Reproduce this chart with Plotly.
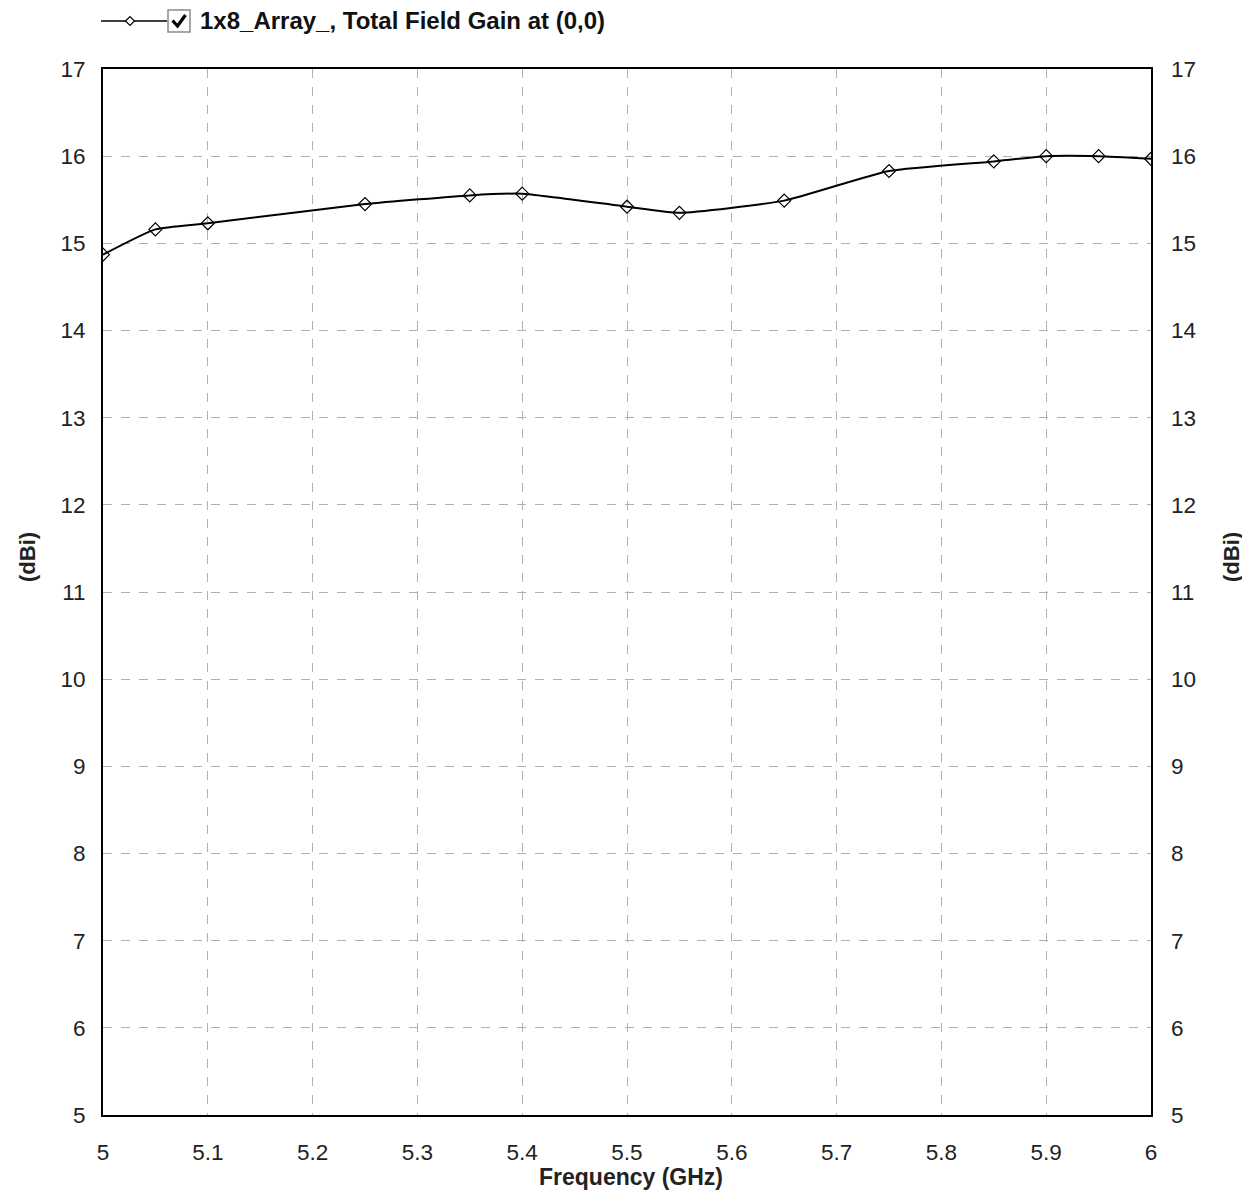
import plotly.graph_objects as go

freq_ghz = [5.0, 5.05, 5.1, 5.25, 5.35, 5.4, 5.5, 5.55, 5.65, 5.75, 5.85, 5.9, 5.95, 6.0]
gain_dbi = [14.87, 15.16, 15.23, 15.45, 15.55, 15.57, 15.42, 15.35, 15.49, 15.83, 15.94, 16.0, 16.0, 15.97]
x_ticks = [5.0, 5.1, 5.2, 5.3, 5.4, 5.5, 5.6, 5.7, 5.8, 5.9, 6.0]
x_tick_labels = ["5", "5.1", "5.2", "5.3", "5.4", "5.5", "5.6", "5.7", "5.8", "5.9", "6"]
y_ticks = list(range(5, 18))
series_name = "1x8_Array_, Total Field Gain at (0,0)"

FONT = "Liberation Sans Narrow, Arial Narrow, Liberation Sans, Arial, sans-serif"
BOLD = "Liberation Sans, Arial, sans-serif"

OFF = 7  # page offset of the figure inside the browser window
# plot area in screen pixels
L, R, T, B = 102, 1150, 68, 1114
PW, PH = R - L, B - T


def px(xs):
    return (xs - L) / PW


def py(ys):
    return (B - ys) / PH


fig = go.Figure()
fig.add_trace(go.Scatter(
    x=freq_ghz, y=gain_dbi, mode="lines+markers",
    line=dict(color="black", width=2, shape="spline", smoothing=0.5),
    marker=dict(symbol="diamond-open", size=10, color="black", line=dict(width=1.2)),
    showlegend=False,
))
fig.add_trace(go.Scatter(x=[freq_ghz[0]], y=[gain_dbi[0]], yaxis="y2",
                         mode="markers", marker=dict(opacity=0), showlegend=False,
                         hoverinfo="skip"))

TICKFONT = dict(family=FONT, size=22.5, color="#222")
axis_common = dict(
    showgrid=True, gridcolor="#b0b0b0", griddash="dash", gridwidth=1,
    showline=True, linecolor="black", linewidth=2, mirror=True,
    zeroline=False, ticks="", automargin=False, tickfont=TICKFONT,
)

fig.update_layout(
    width=1250, height=1196,
    margin=dict(l=L - OFF, r=1250 - R + OFF, t=T - OFF, b=1196 - B + OFF, autoexpand=False),
    paper_bgcolor="white", plot_bgcolor="white",
    xaxis=dict(range=[5, 6], tickvals=x_ticks, ticktext=x_tick_labels, ticklabelstandoff=16,
               **axis_common),
    yaxis=dict(range=[5, 17], tickvals=y_ticks, ticklabelstandoff=11, **axis_common),
    yaxis2=dict(range=[5, 17], tickvals=y_ticks, overlaying="y", side="right",
                showgrid=False, zeroline=False, ticks="", automargin=False,
                ticklabelstandoff=19, tickfont=TICKFONT),
    showlegend=False,
)

# axis titles
fig.add_annotation(x=px(630), y=py(1176), xref="paper", yref="paper", showarrow=False,
                   xanchor="center", yanchor="middle",
                   text="<b>Frequency (GHz)</b>", font=dict(family=BOLD, size=23, color="#222"))
fig.add_annotation(x=px(26), y=py(556), xref="paper", yref="paper", showarrow=False, textangle=-90,
                   xanchor="center", yanchor="middle",
                   text="<b>(dBi)</b>", font=dict(family=BOLD, size=22, color="#222"))
fig.add_annotation(x=px(1230), y=py(556), xref="paper", yref="paper", showarrow=False, textangle=-90,
                   xanchor="center", yanchor="middle",
                   text="<b>(dBi)</b>", font=dict(family=BOLD, size=22, color="#222"))

# custom legend at the top
lg_y = 20
fig.add_shape(type="line", xref="paper", yref="paper",
              x0=px(100), x1=px(166), y0=py(lg_y), y1=py(lg_y),
              line=dict(color="black", width=1.5))
d = 4.5
fig.add_shape(type="path", xref="paper", yref="paper",
              path=(f"M {px(129 - d)},{py(lg_y)} L {px(129)},{py(lg_y - d)} "
                    f"L {px(129 + d)},{py(lg_y)} L {px(129)},{py(lg_y + d)} Z"),
              line=dict(color="black", width=1.2), fillcolor="white")
fig.add_shape(type="rect", xref="paper", yref="paper",
              x0=px(167), x1=px(189), y0=py(9), y1=py(31),
              line=dict(color="#8a8a8a", width=1.5), fillcolor="white")
fig.add_shape(type="path", xref="paper", yref="paper",
              path=(f"M {px(171.5)},{py(19.5)} L {px(176.5)},{py(25)} L {px(184.5)},{py(14)}"),
              line=dict(color="black", width=3.2))
fig.add_annotation(x=px(197), y=py(lg_y), xref="paper", yref="paper", yanchor="middle",
                   xanchor="left", text="<b>" + series_name + "</b>", showarrow=False,
                   font=dict(size=24, color="#111", family=BOLD))

fig.write_html("out.html")
